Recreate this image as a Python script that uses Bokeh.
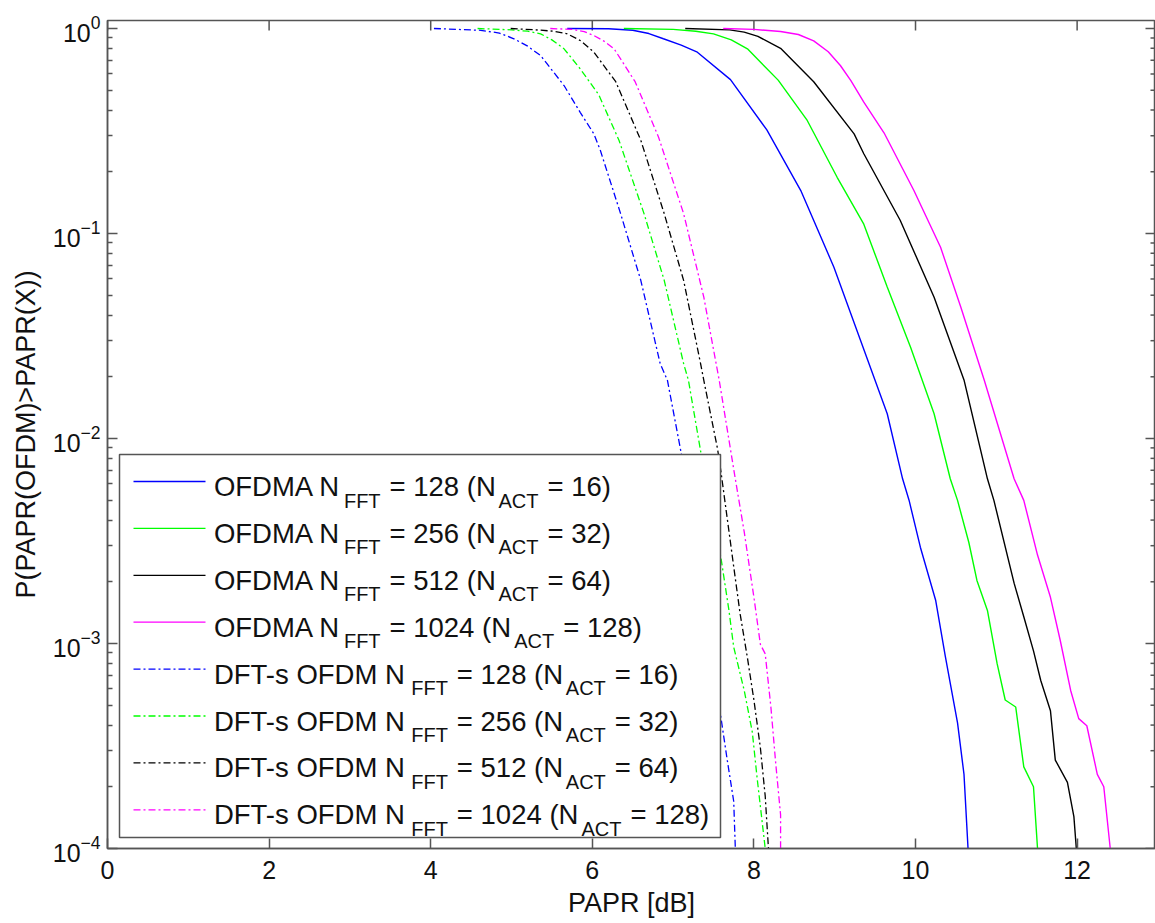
import math
from bokeh.plotting import figure
from bokeh.models import Range1d, FixedTicker, ColumnDataSource
from bokeh.core.properties import value
from bokeh.embed import file_html
from bokeh.resources import INLINE

# ------------------------------------------------------------------ data
ofdma128_x = [5.69, 6.20, 6.50, 6.70, 6.88, 7.10, 7.30, 7.71, 8.16, 8.58, 8.99, 9.32, 9.65, 9.84,
              9.92, 10.06, 10.25, 10.37, 10.52, 10.60, 10.65]
ofdma128_y = [1.0, 0.998, 0.98, 0.945, 0.891, 0.83, 0.766, 0.563, 0.320, 0.162, 0.0685, 0.0301,
              0.0132, 0.00636, 0.0050, 0.00295, 0.00162, 8.6e-4, 4.1e-4, 2.3e-4, 1.0e-4]

ofdma256_x = [6.39, 7.00, 7.28, 7.50, 7.72, 7.92, 8.30, 8.66, 8.74, 9.03, 9.36, 9.65, 9.94, 10.23,
              10.43, 10.52, 10.66, 10.76, 10.89, 11.01, 11.11, 11.24, 11.34, 11.46, 11.51]
ofdma256_y = [1.0, 0.99, 0.97, 0.942, 0.88, 0.796, 0.56, 0.356, 0.31, 0.188, 0.111, 0.0548,
              0.0278, 0.0132, 0.00636, 0.00499, 0.00311, 0.00203, 0.00145, 7.97e-4, 5.3e-4,
              4.9e-4, 2.5e-4, 2.0e-4, 1.0e-4]

ofdma512_x = [7.15, 7.70, 7.88, 8.05, 8.33, 8.74, 9.24, 9.36, 9.81, 10.23, 10.60, 10.89, 10.97,
              11.22, 11.34, 11.46, 11.55, 11.67, 11.73, 11.88, 11.96, 11.99]
ofdma512_y = [1.0, 0.985, 0.96, 0.915, 0.80, 0.55, 0.306, 0.245, 0.116, 0.0489, 0.0193, 0.00636,
              0.00499, 0.00197, 0.00135, 9.2e-4, 6.6e-4, 4.7e-4, 2.7e-4, 2.1e-4, 1.43e-4, 1.0e-4]

ofdma1024_x = [7.62, 8.00, 8.33, 8.55, 8.74, 8.92, 9.07, 9.20, 9.36, 9.61, 9.98, 10.31, 10.56,
               10.85, 11.22, 11.34, 11.51, 11.67, 11.79, 11.92, 12.02, 12.12, 12.25, 12.33, 12.41]
ofdma1024_y = [1.0, 0.99, 0.967, 0.935, 0.87, 0.77, 0.66, 0.557, 0.437, 0.31, 0.162, 0.0857,
               0.0438, 0.0193, 0.00636, 0.00499, 0.0027, 0.00168, 0.00104, 5.9e-4, 4.3e-4,
               3.97e-4, 2.3e-4, 2.0e-4, 1.0e-4]

dfts128_x = [4.04, 4.62, 4.85, 5.03, 5.20, 5.36, 5.65, 5.85, 6.02, 6.10, 6.35, 6.60, 6.84, 6.93,
             7.10, 7.30, 7.45, 7.59, 7.67, 7.75, 7.77]
dfts128_y = [1.0, 0.98, 0.95, 0.891, 0.82, 0.738, 0.527, 0.39, 0.306, 0.254, 0.125, 0.0591,
             0.0232, 0.0192, 0.0085, 0.003, 0.0012, 4.4e-4, 2.7e-4, 1.7e-4, 1.0e-4]

dfts256_x = [4.58, 5.00, 5.20, 5.36, 5.50, 5.65, 5.85, 6.08, 6.33, 6.64, 6.89, 7.13, 7.19, 7.34,
             7.47, 7.59, 7.69, 7.75, 7.88, 7.98, 8.04, 8.14]
dfts256_y = [1.0, 0.985, 0.97, 0.942, 0.88, 0.796, 0.636, 0.475, 0.285, 0.125, 0.0591, 0.0232,
             0.0192, 0.0087, 0.0045, 0.00265, 0.00146, 9.6e-4, 5.9e-4, 3.7e-4, 2.2e-4, 1.0e-4]

dfts512_x = [4.99, 5.30, 5.52, 5.69, 5.86, 6.02, 6.29, 6.60, 6.89, 7.13, 7.34, 7.38, 7.55, 7.59,
             7.75, 7.83, 7.92, 8.00, 8.08, 8.14, 8.18]
dfts512_y = [1.0, 0.985, 0.97, 0.942, 0.87, 0.766, 0.55, 0.285, 0.125, 0.0591, 0.0232, 0.0192,
             0.0089, 0.00698, 0.00237, 0.00139, 8.5e-4, 5.3e-4, 3.1e-4, 1.8e-4, 1.0e-4]

dfts1024_x = [5.48, 5.75, 5.90, 6.02, 6.15, 6.27, 6.53, 6.82, 7.13, 7.38, 7.57, 7.76, 7.88, 8.00,
              8.08, 8.14, 8.21, 8.27, 8.33, 8.33]
dfts1024_y = [1.0, 0.99, 0.965, 0.924, 0.865, 0.796, 0.55, 0.295, 0.125, 0.0489, 0.0193, 0.0067,
              0.0035, 0.00168, 0.00099, 8.9e-4, 4.9e-4, 2.6e-4, 1.46e-4, 1.0e-4]

XTICKS = [0, 2, 4, 6, 8, 10, 12]
YTICK_EXPONENTS = [0, -1, -2, -3, -4]
X_LABEL = "PAPR [dB]"
Y_LABEL = "P(PAPR(OFDM)>PAPR(X))"

# legend rows: (scheme, N_FFT, N_ACT)
LEGEND_ROWS = [("OFDMA", "128", "16"), ("OFDMA", "256", "32"), ("OFDMA", "512", "64"),
               ("OFDMA", "1024", "128"), ("DFT-s OFDM", "128", "16"),
               ("DFT-s OFDM", "256", "32"), ("DFT-s OFDM", "512", "64"),
               ("DFT-s OFDM", "1024", "128")]

BLUE, GREEN, BLACK, MAGENTA = "#0000ff", "#00ff00", "#000000", "#ff00ff"
SOLID, DASHDOT = "solid", "7 3 2 3"
SERIES = [
    (ofdma128_x, ofdma128_y, BLUE, SOLID),
    (ofdma256_x, ofdma256_y, GREEN, SOLID),
    (ofdma512_x, ofdma512_y, BLACK, SOLID),
    (ofdma1024_x, ofdma1024_y, MAGENTA, SOLID),
    (dfts128_x, dfts128_y, BLUE, DASHDOT),
    (dfts256_x, dfts256_y, GREEN, DASHDOT),
    (dfts512_x, dfts512_y, BLACK, DASHDOT),
    (dfts1024_x, dfts1024_y, MAGENTA, DASHDOT),
]

# ------------------------------------------------------------------ layout
FL, FT, FW, FH = 107, 20, 1048, 828
X_MIN, X_MAX = 0.0, 12.97
Y_MIN, Y_MAX = 1e-4, 1.094
AX = "#555555"
TXT = "#111111"
FONT = "Liberation Sans"
LOG_LO, LOG_HI = math.log10(Y_MIN), math.log10(Y_MAX)


def dx(px):
    return X_MIN + (px - FL) / FW * (X_MAX - X_MIN)


def dy(py):
    return 10 ** (LOG_LO + (FT + FH - py) / FH * (LOG_HI - LOG_LO))


p = figure(frame_width=FW, frame_height=FH,
           x_range=Range1d(X_MIN, X_MAX), y_range=Range1d(Y_MIN, Y_MAX),
           y_axis_type="log", output_backend="svg", toolbar_location=None,
           min_border_left=FL, min_border_top=FT, min_border_bottom=923 - FT - FH,
           min_border_right=0)
p.background_fill_color = "white"
p.border_fill_color = "white"
p.outline_line_color = AX
p.outline_line_width = 1.5
p.grid.visible = False

# bottom x axis
xa = p.xaxis[0]
xa.ticker = FixedTicker(ticks=XTICKS)
xa.major_tick_in = 10
xa.major_tick_out = 0
xa.minor_tick_in = 0
xa.minor_tick_out = 0
xa.axis_line_color = AX
xa.axis_line_width = 1.5
xa.major_tick_line_color = AX
xa.major_tick_line_width = 1.5
xa.major_label_text_font = FONT
xa.major_label_text_font_size = "25px"
xa.major_label_text_color = TXT
xa.major_label_standoff = 12
xa.axis_label = X_LABEL
xa.axis_label_text_font = FONT
xa.axis_label_text_font_size = "27px"
xa.axis_label_text_font_style = "normal"
xa.axis_label_text_color = TXT
xa.axis_label_standoff = 6

# left log y axis (10^k labels from the log formatter)
majors = [10.0 ** e for e in YTICK_EXPONENTS]
minors = [m * 10.0 ** e for e in range(-4, 0) for m in range(2, 10)]
ya = p.yaxis[0]
ya.ticker = FixedTicker(ticks=majors, minor_ticks=minors)
ya.major_tick_in = 10
ya.major_tick_out = 0
ya.minor_tick_in = 5
ya.minor_tick_out = 0
ya.axis_line_color = AX
ya.axis_line_width = 1.5
ya.major_tick_line_color = AX
ya.major_tick_line_width = 1.5
ya.minor_tick_line_color = AX
ya.minor_tick_line_width = 1.5
ya.major_label_text_font = FONT
ya.major_label_text_font_size = "25px"
ya.major_label_text_color = TXT
ya.major_label_standoff = 7
ya.axis_label = Y_LABEL
ya.axis_label_text_font = FONT
ya.axis_label_text_font_size = "27px"
ya.axis_label_text_font_style = "normal"
ya.axis_label_text_color = TXT
ya.axis_label_standoff = 9

# frame ticks on top (x) and right (log y), drawn from the tick arrays
n = len(XTICKS)
p.segment(x0=XTICKS, y0=[Y_MAX] * n, x1=XTICKS, y1=[dy(FT + 10)] * n,
          line_color=AX, line_width=1.5)
p.segment(x0=[X_MAX] * len(majors), y0=majors, x1=[dx(FL + FW - 10)] * len(majors), y1=majors,
          line_color=AX, line_width=1.5)
p.segment(x0=[X_MAX] * len(minors), y0=minors, x1=[dx(FL + FW - 5)] * len(minors), y1=minors,
          line_color=AX, line_width=1.5)

# curves
for xs, ys, color, dash in SERIES:
    p.line(xs, ys, line_color=color, line_width=1.4 if dash == SOLID else 1.3,
           line_dash=dash)

# legend
p.quad(left=[dx(119)], right=[dx(720)], top=[dy(454)], bottom=[dy(837)],
       fill_color="white", line_color=AX, line_width=1.5)

EM = {'O': 0.778, 'F': 0.611, 'D': 0.722, 'M': 0.833, 'A': 0.667, 'N': 0.722, 'T': 0.611,
      'C': 0.722, 's': 0.5, '-': 0.333, ' ': 0.278, '=': 0.584, '(': 0.333, ')': 0.333}


def width(s, size):
    return sum(EM.get(ch, 0.556) for ch in s) * size


main_x, main_y, main_t = [], [], []
sub_x, sub_y, sub_t = [], [], []
ROW0, ROWSTEP = 481.0, 46.9
for i, (scheme, nfft, nact) in enumerate(LEGEND_ROWS):
    ly = ROW0 + i * ROWSTEP
    color = SERIES[i][2]
    dash = SERIES[i][3]
    p.line([dx(133), dx(205)], [dy(ly), dy(ly)], line_color=color, line_width=1.3,
           line_dash=dash)
    pieces = [(scheme + " N", False), ("FFT", True), (" = " + nfft + " (N", False),
              ("ACT", True), (" = " + nact + ")", False)]
    cx = 213.4
    for s, is_sub in pieces:
        size = 20.6 if is_sub else 28.2
        lead = len(s) - len(s.lstrip(" "))
        cx += lead * EM[" "] * size
        s = s.lstrip(" ")
        if is_sub:
            sub_x.append(dx(cx)); sub_y.append(dy(ly + 19)); sub_t.append(s)
        else:
            main_x.append(dx(cx)); main_y.append(dy(ly + 5)); main_t.append(s)
        cx += width(s, size)

p.text(x="x", y="y", text="t", source=ColumnDataSource(dict(x=main_x, y=main_y, t=main_t)),
       text_font=value(FONT), text_font_size=value("27.5px"), text_align="left",
       text_baseline="alphabetic", text_color=TXT)
p.text(x="x", y="y", text="t", source=ColumnDataSource(dict(x=sub_x, y=sub_y, t=sub_t)),
       text_font=value(FONT), text_font_size=value("20px"), text_align="left",
       text_baseline="alphabetic", text_color=TXT)

open("out.html", "w").write(file_html(p, INLINE))
